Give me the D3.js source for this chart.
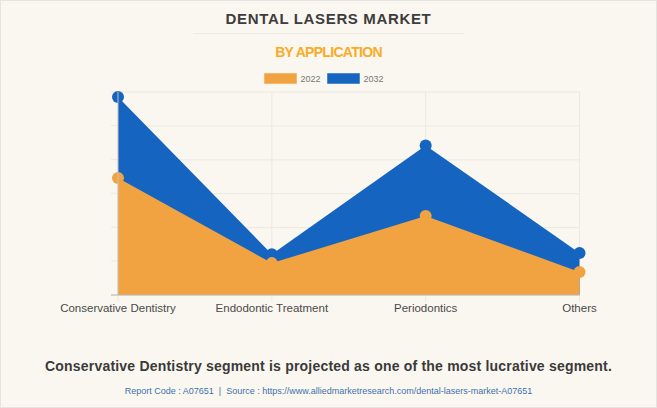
<!DOCTYPE html>
<html>
<head>
<meta charset="utf-8">
<script src="https://cdn.jsdelivr.net/npm/d3@7"></script>
<style>
  html, body { margin: 0; padding: 0; background: #faf7f0; }
  svg { display: block; }
  text { font-family: "Liberation Sans", Arial, sans-serif; }
</style>
</head>
<body>
<div id="chart"></div>
<script>
const categories = ["Conservative Dentistry", "Endodontic Treatment", "Periodontics", "Others"];
const values2022 = [3.45, 0.94, 2.33, 0.68];
const values2032 = [5.84, 1.2, 4.41, 1.24];
const yTicks = [0, 1, 2, 3, 4, 5, 6];

const W = 657, H = 408;
const margin = { top: 91.5, right: 77.5, bottom: 113, left: 118 };
const orange = "#f2a341", blue = "#1565c0", grid = "#ece9e2";

const svg = d3.select("#chart").append("svg").attr("width", W).attr("height", H);

svg.append("rect").attr("x", 0.5).attr("y", 0.5).attr("width", W - 1).attr("height", H - 1)
  .attr("fill", "#faf7f0").attr("stroke", "#e4e4e2");

const x = d3.scalePoint().domain(categories).range([margin.left, W - margin.right]);
const y = d3.scaleLinear().domain([0, 6]).range([H - margin.bottom, margin.top]);

// grid
svg.append("g").call(d3.axisLeft(y).tickValues(yTicks).tickSize(-(W - margin.left - margin.right)).tickFormat(""))
  .attr("transform", `translate(${margin.left},0)`)
  .call(g => g.select(".domain").remove())
  .selectAll("line").attr("stroke", grid);
svg.append("g").selectAll("line").data(yTicks).join("line")
  .attr("x1", margin.left - 7).attr("x2", margin.left)
  .attr("y1", d => y(d)).attr("y2", d => y(d)).attr("stroke", grid);
svg.append("g").selectAll("line").data(categories).join("line")
  .attr("x1", d => x(d)).attr("x2", d => x(d))
  .attr("y1", margin.top).attr("y2", y(0) + 7).attr("stroke", grid);

// areas, 2032 behind 2022
const area = d3.area().x((d, i) => x(categories[i])).y0(y(0)).y1(d => y(d));
[[values2032, blue], [values2022, orange]].forEach(([vals, color]) => {
  svg.append("path").datum(vals).attr("d", area).attr("fill", color);
  svg.append("g").selectAll("circle").data(vals).join("circle")
    .attr("cx", (d, i) => x(categories[i])).attr("cy", d => y(d))
    .attr("r", 6).attr("fill", color);
});

// axis baseline + left line
svg.append("line").attr("x1", margin.left - 7).attr("x2", W - margin.right)
  .attr("y1", y(0)).attr("y2", y(0)).attr("stroke", "#b9b7b2");
svg.append("line").attr("x1", margin.left).attr("x2", margin.left)
  .attr("y1", margin.top).attr("y2", y(0)).attr("stroke", "#c4c2bc");

// category labels
svg.append("g").selectAll("text").data(categories).join("text")
  .attr("x", d => x(d)).attr("y", 312).attr("text-anchor", "middle")
  .attr("font-size", 11.5).attr("fill", "#4a4a4a").text(d => d);

// titles
svg.append("text").attr("x", 328.5).attr("y", 24).attr("text-anchor", "middle")
  .attr("font-size", 15).attr("font-weight", "bold").attr("letter-spacing", 0.65)
  .attr("fill", "#3d3d3d").text("DENTAL LASERS MARKET");
svg.append("line").attr("x1", 193).attr("x2", 464).attr("y1", 33.5).attr("y2", 33.5)
  .attr("stroke", "#eeebe4");
svg.append("text").attr("x", 328.5).attr("y", 57).attr("text-anchor", "middle")
  .attr("font-size", 14).attr("font-weight", "bold").attr("letter-spacing", -0.7)
  .attr("fill", "#f9ab27").text("BY APPLICATION");

// legend
const legend = [["2022", orange, 264.5], ["2032", blue, 327.5]];
legend.forEach(([label, color, lx]) => {
  svg.append("rect").attr("x", lx).attr("y", 73.5).attr("width", 32).attr("height", 10)
    .attr("fill", color).attr("stroke", color).attr("stroke-opacity", 0.5);
  svg.append("text").attr("x", lx + 36).attr("y", 81.5)
    .attr("font-size", 9).attr("fill", "#777").text(label);
});

// footer
svg.append("text").attr("x", 328.5).attr("y", 371).attr("text-anchor", "middle")
  .attr("font-size", 14).attr("font-weight", "bold").attr("letter-spacing", 0.2)
  .attr("fill", "#3a3a3a").text("Conservative Dentistry segment is projected as one of the most lucrative segment.");
svg.append("text").attr("x", 328.5).attr("y", 394).attr("text-anchor", "middle")
  .attr("font-size", 9).attr("fill", "#3f71ad").style("white-space", "pre")
  .text("Report Code : A07651  |  Source : https://www.alliedmarketresearch.com/dental-lasers-market-A07651");
</script>
</body>
</html>
